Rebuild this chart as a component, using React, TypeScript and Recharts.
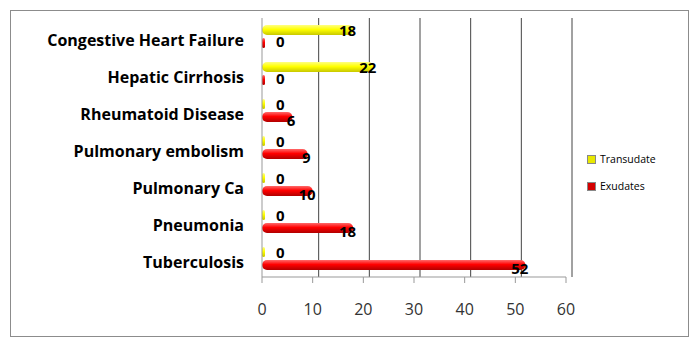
import { BarChart, Bar, XAxis, YAxis, CartesianGrid, LabelList } from 'recharts';

// Pleural effusion causes, split into transudates / exudates
const categories = [
  'Congestive Heart Failure',
  'Hepatic Cirrhosis',
  'Rheumatoid Disease',
  'Pulmonary embolism',
  'Pulmonary Ca',
  'Pneumonia',
  'Tuberculosis',
];
const transudate = [18, 22, 0, 0, 0, 0, 0];
const exudates = [0, 0, 6, 9, 10, 18, 52];
const xTicks = [0, 10, 20, 30, 40, 50, 60];

const data = categories.map((name, i) => ({
  name,
  transudate: transudate[i],
  exudates: exudates[i],
}));

const FONT = '"Open Sans", "Liberation Sans", sans-serif';

function makeLabel(dyNonZero: number, dyZero: number) {
  return (props: any) => {
    const { x, y, width, height, value } = props;
    const cy = y + height / 2;
    if (value === 0) {
      return (
        <text x={x + 14} y={cy + dyZero} textAnchor="start" dominantBaseline="middle"
          fontFamily={FONT} fontWeight={700} fontSize={15} fill="#000">
          0
        </text>
      );
    }
    return (
      <text x={x + width + 3} y={cy + dyNonZero} textAnchor="end" dominantBaseline="middle"
        fontFamily={FONT} fontWeight={700} fontSize={15} fill="#000">
        {value}
      </text>
    );
  };
}

function LegendBox() {
  const items = [
    { label: 'Transudate', color: '#e8e800', top: 152 },
    { label: 'Exudates', color: '#d40000', top: 179 },
  ];
  return (
    <>
      {items.map((it) => (
        <div key={it.label} style={{ position: 'absolute', left: 587, top: it.top, display: 'flex', alignItems: 'center', fontFamily: FONT, fontSize: 10.5, color: '#000' }}>
          <span style={{ display: 'inline-block', width: 7, height: 7, background: it.color, border: '1px solid #888', marginRight: 4 }} />
          {it.label}
        </div>
      ))}
    </>
  );
}

export default function App() {
  return (
    <div style={{ position: 'absolute', left: 0, top: 0, width: 697, height: 347, background: '#fff' }}>
      <div style={{ position: 'absolute', left: 10, top: 10, width: 677, height: 325, border: '1px solid #8c8c8c' }} />
      <BarChart
        width={697}
        height={347}
        data={data}
        layout="vertical"
        margin={{ top: 18, right: 131, bottom: 30, left: 0 }}
        barSize={10}
        barGap={3}
        style={{ position: 'absolute', left: 0, top: 0 }}
      >
        <defs>
          <linearGradient id="gYellow" x1="0" y1="0" x2="0" y2="1">
            <stop offset="0%" stopColor="#ffff80" />
            <stop offset="45%" stopColor="#ffff00" />
            <stop offset="100%" stopColor="#c8c800" />
          </linearGradient>
          <linearGradient id="gRed" x1="0" y1="0" x2="0" y2="1">
            <stop offset="0%" stopColor="#ff6a6a" />
            <stop offset="45%" stopColor="#ff0000" />
            <stop offset="100%" stopColor="#b00000" />
          </linearGradient>
        </defs>
        <CartesianGrid
          horizontal={false}
          stroke="#444"
          verticalCoordinatesGenerator={({ offset }: any) =>
            xTicks.slice(1).map((t) => offset.left + (t / 60) * offset.width + 6)
          }
        />
        <XAxis
          type="number"
          domain={[0, 60]}
          ticks={xTicks}
          height={40}
          tickSize={6}
          tickMargin={21}
          axisLine={{ stroke: '#999' }}
          tickLine={{ stroke: '#999' }}
          tick={{ fontFamily: FONT, fontSize: 16, fill: '#333' }}
        />
        <YAxis
          type="category"
          dataKey="name"
          width={262}
          tickSize={0}
          tickMargin={18}
          axisLine={{ stroke: '#999' }}
          tickLine={false}
          tick={{ fontFamily: FONT, fontSize: 16, fontWeight: 700, fill: '#000', dy: 4 }}
        />
        <Bar dataKey="transudate" fill="url(#gYellow)" radius={5} minPointSize={3} isAnimationActive={false}>
          <LabelList dataKey="transudate" content={makeLabel(2, 2)} />
        </Bar>
        <Bar dataKey="exudates" fill="url(#gRed)" radius={5} minPointSize={3} isAnimationActive={false}>
          <LabelList dataKey="exudates" content={makeLabel(5, 0)} />
        </Bar>
      </BarChart>
      <LegendBox />
    </div>
  );
}
